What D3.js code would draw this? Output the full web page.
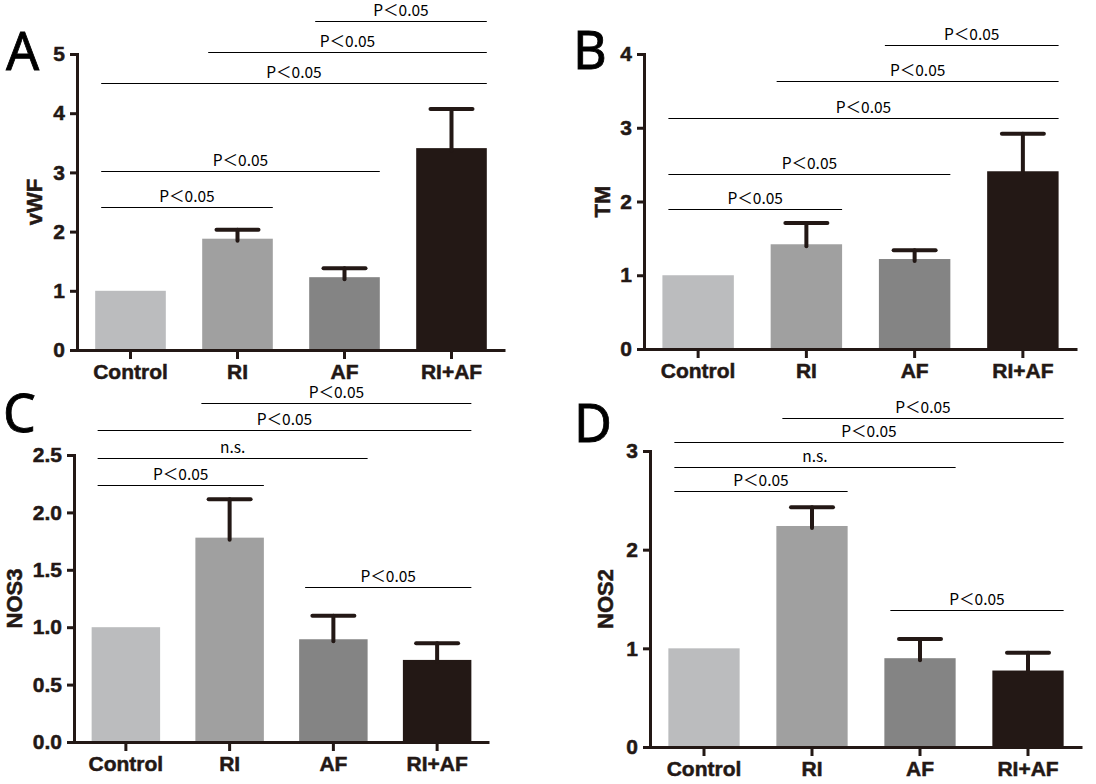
<!DOCTYPE html>
<html>
<head>
<meta charset="utf-8">
<script src="https://cdn.jsdelivr.net/npm/d3@7"></script>
<style>
  html, body { margin: 0; padding: 0; background: #fff; }
  svg { display: block; }
</style>
</head>
<body>
<svg id="chart" width="1096" height="784"></svg>
<script>
// group labels and bar colours
const categories = ['Control', 'RI', 'AF', 'RI+AF'];
const barColors = ['#bbbcbe', '#a0a0a0', '#848484', '#231815'];

// mean and SEM per panel
const vwfMean = [1.0, 1.88, 1.23, 3.41];
const vwfSem = [0, 0.15, 0.15, 0.66];
const tmMean = [1.0, 1.42, 1.22, 2.41];
const tmSem = [0, 0.29, 0.12, 0.51];
const nos3Mean = [1.0, 1.78, 0.895, 0.715];
const nos3Sem = [0, 0.335, 0.205, 0.145];
const nos2Mean = [1.0, 2.24, 0.90, 0.775];
const nos2Sem = [0, 0.19, 0.195, 0.18];

// y tick values
const vwfTicks = [0, 1, 2, 3, 4, 5];
const tmTicks = [0, 1, 2, 3, 4];
const nos3Ticks = [0, 0.5, 1.0, 1.5, 2.0, 2.5];
const nos2Ticks = [0, 1, 2, 3];

// significance lines: [from group, to group, level (data units), label]
const vwfSig = [[0, 1, 2.42, 'P＜0.05'], [0, 2, 3.02, 'P＜0.05'], [0, 3, 4.51, 'P＜0.05'], [1, 3, 5.03, 'P＜0.05'], [2, 3, 5.56, 'P＜0.05']];
const tmSig = [[0, 1, 1.90, 'P＜0.05'], [0, 2, 2.37, 'P＜0.05'], [0, 3, 3.13, 'P＜0.05'], [1, 3, 3.64, 'P＜0.05'], [2, 3, 4.12, 'P＜0.05']];
const nos3Sig = [[0, 1, 2.24, 'P＜0.05'], [0, 2, 2.47, 'n.s.'], [0, 3, 2.72, 'P＜0.05'], [1, 3, 2.95, 'P＜0.05'], [2, 3, 1.35, 'P＜0.05']];
const nos2Sig = [[0, 1, 2.59, 'P＜0.05'], [0, 2, 2.84, 'n.s.'], [0, 3, 3.09, 'P＜0.05'], [1, 3, 3.33, 'P＜0.05'], [2, 3, 1.39, 'P＜0.05']];

// panel layout
const panels = [
  { letter: 'A', title: 'vWF', mean: vwfMean, sem: vwfSem, ticks: vwfTicks, fmt: d3.format('d'), sig: vwfSig,
    left: 77, right: 505, top: 54, bottom: 350, letterX: 6, letterY: 70, titleX: 42 },
  { letter: 'B', title: 'TM', mean: tmMean, sem: tmSem, ticks: tmTicks, fmt: d3.format('d'), sig: tmSig,
    left: 644, right: 1077, top: 54, bottom: 349, letterX: 573, letterY: 69, titleX: 610 },
  { letter: 'C', title: 'NOS3', mean: nos3Mean, sem: nos3Sem, ticks: nos3Ticks, fmt: d3.format('.1f'), sig: nos3Sig,
    left: 74, right: 489, top: 455, bottom: 742, letterX: 3, letterY: 432, titleX: 22 },
  { letter: 'D', title: 'NOS2', mean: nos2Mean, sem: nos2Sem, ticks: nos2Ticks, fmt: d3.format('d'), sig: nos2Sig,
    left: 650, right: 1082, top: 451, bottom: 747, letterX: 574, letterY: 442, titleX: 613 }
];

const svg = d3.select('#chart');
const boldFont = '"Liberation Sans", Arial, sans-serif';
const sigFont = '"Noto Sans CJK SC", "Noto Sans", sans-serif';
const ink = '#231815';

function heavy (sel, size) {
  sel.attr('fill', ink)
    .attr('stroke', ink)
    .attr('stroke-width', 0.5)
    .style('font-family', boldFont)
    .style('font-weight', 'bold')
    .style('font-size', size + 'px');
}

panels.forEach(p => {
  const g = svg.append('g');
  const ymax = p.ticks[p.ticks.length - 1];

  const x = d3.scaleBand()
    .domain(categories)
    .range([p.left, p.right])
    .paddingInner(0.34)
    .paddingOuter(0.17);
  const y = d3.scaleLinear()
    .domain([0, ymax])
    .range([p.bottom, p.top]);
  const bw = x.bandwidth();

  // bars
  g.selectAll('rect.bar')
    .data(categories)
    .enter()
    .append('rect')
    .attr('class', 'bar')
    .attr('x', d => x(d))
    .attr('y', (d, i) => y(p.mean[i]))
    .attr('width', bw)
    .attr('height', (d, i) => y(0) - y(p.mean[i]))
    .attr('fill', (d, i) => barColors[i]);

  // error bars (upper only)
  const errs = categories.map((c, i) => ({ c, m: p.mean[i], s: p.sem[i] })).filter(d => d.s > 0);
  const eg = g.selectAll('g.err').data(errs).enter().append('g')
    .attr('stroke', ink)
    .attr('stroke-width', 4)
    .attr('stroke-linecap', 'round');
  eg.append('line')
    .attr('x1', d => x(d.c) + bw / 2)
    .attr('x2', d => x(d.c) + bw / 2)
    .attr('y1', d => y(d.m) + 2)
    .attr('y2', d => y(d.m + d.s));
  eg.append('line')
    .attr('x1', d => x(d.c) + bw / 2 - 21)
    .attr('x2', d => x(d.c) + bw / 2 + 21)
    .attr('y1', d => y(d.m + d.s))
    .attr('y2', d => y(d.m + d.s));

  // axes
  const yAxis = g.append('g')
    .attr('transform', `translate(${p.left},0)`)
    .call(d3.axisLeft(y).tickValues(p.ticks).tickFormat(p.fmt).tickSize(7).tickSizeOuter(0).tickPadding(5));
  const xAxis = g.append('g')
    .attr('transform', `translate(0,${p.bottom})`)
    .call(d3.axisBottom(x).tickSize(9).tickSizeOuter(0).tickPadding(6));

  [yAxis, xAxis].forEach(a => {
    a.selectAll('path, line').attr('stroke', ink).attr('stroke-width', 3);
    a.selectAll('text').call(heavy, 21);
  });
  yAxis.select('.domain').attr('stroke-linecap', 'square');
  xAxis.selectAll('text').attr('dy', null).attr('y', 29);

  // axis title
  g.append('text')
    .attr('transform', `translate(${p.titleX},${(p.top + p.bottom) / 2}) rotate(-90)`)
    .attr('text-anchor', 'middle')
    .call(heavy, 22)
    .text(p.title);

  // significance lines
  const sg = g.selectAll('g.sig').data(p.sig).enter().append('g');
  sg.append('line')
    .attr('x1', d => x(categories[d[0]]) + 6)
    .attr('x2', d => x(categories[d[1]]) + bw)
    .attr('y1', d => Math.round(y(d[2])) + 0.5)
    .attr('y2', d => Math.round(y(d[2])) + 0.5)
    .attr('stroke', '#000')
    .attr('stroke-width', 1);
  sg.append('text')
    .attr('x', d => (x(categories[d[0]]) + 6 + x(categories[d[1]]) + bw) / 2)
    .attr('y', d => y(d[2]) - 5)
    .attr('text-anchor', 'middle')
    .attr('fill', '#000')
    .style('font-family', sigFont)
    .style('font-size', '15.5px')
    .text(d => d[3]);

  // panel letter
  g.append('text')
    .attr('x', p.letterX)
    .attr('y', p.letterY)
    .attr('fill', '#000')
    .attr('stroke', '#000')
    .attr('stroke-width', 0.8)
    .style('font-family', '"Noto Sans", "Liberation Sans", sans-serif')
    .style('font-size', '52px')
    .text(p.letter);
});
</script>
</body>
</html>
